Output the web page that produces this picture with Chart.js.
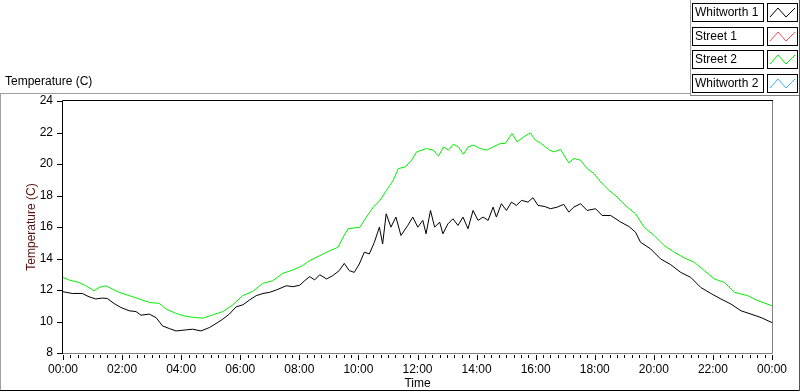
<!DOCTYPE html>
<html><head><meta charset="utf-8">
<script src="https://cdn.jsdelivr.net/npm/chart.js@4.4.1/dist/chart.umd.min.js"></script>
<style>
html,body{margin:0;padding:0;background:#fff;}
#wrap{position:relative;width:800px;height:392px;overflow:hidden;font-family:'Liberation Sans',Arial,sans-serif;font-size:12px;color:#000;}
#c{position:absolute;left:0;top:0;}
.ln{position:absolute;}
#ttl{position:absolute;left:5px;top:74px;font-size:12px;line-height:14px;white-space:nowrap;}
.lab{position:absolute;left:692px;width:68px;height:17px;border:1px solid #000;line-height:17px;padding-left:2px;box-sizing:content-box;white-space:nowrap;font-size:12px;}
.sw{position:absolute;left:767px;width:29px;height:17px;border:1px solid #000;}
.sw svg{display:block;}
</style></head>
<body>
<div id="wrap">
<canvas id="c" width="800" height="392"></canvas>
<div id="ttl">Temperature (C)</div>
<div class="ln" style="left:0;top:93px;width:690px;height:1px;background:#a0a0a0"></div>
<div class="ln" style="left:690px;top:0;width:1px;height:95px;background:#a0a0a0"></div>
<div class="ln" style="left:690px;top:95px;width:110px;height:1px;background:#808080"></div>
<div class="ln" style="left:0;top:93px;width:1px;height:298px;background:#a0a0a0"></div>
<div class="ln" style="left:0;top:390px;width:800px;height:1px;background:#000"></div>
<div class="ln" style="left:799px;top:0;width:1px;height:391px;background:#555"></div>
<div id="legend"></div>
</div>
<script>
// ---- data (hours after midnight, °C) ----
const seriesNames = ['Whitworth 1', 'Street 1', 'Street 2', 'Whitworth 2'];
const seriesColors = ['#000000', '#ff4a4a', '#00f000', '#33b5ff'];

const whitworth1Hours = [0.00,0.31,0.65,0.88,1.11,1.33,1.50,1.73,1.96,2.24,2.47,2.64,2.92,3.15,3.37,3.60,3.83,4.17,4.39,4.67,4.96,5.18,5.41,5.63,5.86,6.09,6.31,6.54,6.77,6.99,7.22,7.56,7.78,8.01,8.18,8.35,8.52,8.69,8.92,9.13,9.35,9.52,9.69,9.86,10.03,10.20,10.37,10.54,10.71,10.82,10.94,11.10,11.27,11.44,11.67,11.84,12.01,12.18,12.29,12.44,12.58,12.75,12.86,13.03,13.20,13.37,13.54,13.71,13.88,14.05,14.22,14.39,14.56,14.67,14.84,15.01,15.18,15.35,15.52,15.74,15.91,16.08,16.31,16.50,16.73,16.95,17.12,17.29,17.52,17.74,18.03,18.25,18.54,18.88,19.16,19.38,19.55,19.89,20.23,20.57,20.91,21.25,21.59,21.93,22.27,22.61,22.95,23.29,23.63,24.00];
const whitworth1Temps = [11.89,11.78,11.78,11.57,11.43,11.49,11.46,11.14,10.89,10.68,10.63,10.40,10.47,10.25,9.72,9.55,9.40,9.47,9.51,9.40,9.62,9.87,10.15,10.47,10.93,11.06,11.36,11.64,11.78,11.85,12.00,12.27,12.21,12.30,12.59,12.85,12.64,12.97,12.70,12.91,13.23,13.69,13.23,13.12,13.65,14.40,14.29,15.03,15.99,14.93,16.84,15.99,16.63,15.46,16.10,16.63,15.99,16.42,15.57,17.05,15.99,16.31,15.57,16.20,16.52,16.10,16.63,15.89,17.05,16.42,16.63,16.42,17.26,16.63,17.48,17.05,17.58,17.37,17.69,17.58,17.86,17.37,17.30,17.16,17.26,17.44,16.95,17.26,17.48,17.05,17.16,16.73,16.73,16.31,16.03,15.67,15.03,14.61,13.97,13.61,13.12,12.80,12.16,11.78,11.43,11.11,10.68,10.47,10.25,9.93];

const street2Hours = [0.00,0.20,0.54,0.77,1.05,1.22,1.45,1.67,1.90,2.24,2.58,2.92,3.26,3.49,3.83,4.17,4.50,4.73,5.07,5.41,5.75,6.08,6.42,6.76,7.10,7.44,7.78,8.11,8.35,8.69,9.03,9.31,9.48,9.65,10.05,10.27,10.50,10.73,10.95,11.18,11.35,11.58,11.80,11.97,12.31,12.54,12.71,12.88,13.05,13.21,13.38,13.55,13.72,13.89,14.12,14.34,14.57,14.80,14.97,15.20,15.37,15.59,15.82,15.99,16.16,16.47,16.61,16.84,17.12,17.29,17.52,17.74,17.97,18.20,18.48,18.76,19.10,19.38,19.67,20.01,20.35,20.69,21.03,21.37,21.71,22.05,22.39,22.73,23.18,23.52,24.00];
const street2Temps = [12.80,12.64,12.48,12.27,11.95,12.16,12.27,12.06,11.85,11.64,11.43,11.21,11.15,10.79,10.51,10.32,10.25,10.21,10.42,10.63,11.06,11.64,11.91,12.42,12.59,13.06,13.27,13.55,13.87,14.18,14.50,14.71,15.35,15.89,15.99,16.63,17.26,17.69,18.33,18.97,19.71,19.81,20.24,20.77,20.98,20.88,20.50,21.09,20.88,21.26,21.09,20.62,21.09,21.20,20.98,20.88,21.09,21.30,21.30,21.94,21.41,21.72,21.98,21.51,21.34,20.88,20.77,20.92,20.07,20.35,20.24,19.71,19.39,18.86,18.33,17.90,17.26,16.84,15.99,15.46,14.82,14.40,14.04,13.76,13.23,12.70,12.48,11.85,11.64,11.32,11.00];

const street1Hours = [];
const street1Temps = [];
const whitworth2Hours = [];
const whitworth2Temps = [];

const yTickValues = [8,10,12,14,16,18,20,22,24];
const xTickHours = [0,2,4,6,8,10,12,14,16,18,20,22,24];
const xTickLabels = ['00:00','02:00','04:00','06:00','08:00','10:00','12:00','14:00','16:00','18:00','20:00','22:00','00:00'];

const toPts = (hs, ts) => hs.map((h, i) => ({x: h, y: ts[i]}));
const seriesData = [
  toPts(whitworth1Hours, whitworth1Temps),
  toPts(street1Hours, street1Temps),
  toPts(street2Hours, street2Temps),
  toPts(whitworth2Hours, whitworth2Temps)
];

const FONT = "'Liberation Sans', Arial, sans-serif";

const framePlugin = {
  id: 'frame',
  afterDraw(chart) {
    const {ctx, chartArea: a, scales: {x, y}} = chart;
    ctx.save();
    ctx.lineWidth = 1;
    ctx.strokeStyle = '#808080';
    ctx.beginPath();
    ctx.moveTo(a.right + 0.5, a.top);
    ctx.lineTo(a.right + 0.5, a.bottom + 0.5);
    ctx.lineTo(a.left, a.bottom + 0.5);
    ctx.stroke();
    ctx.strokeStyle = '#000';
    ctx.beginPath();
    ctx.moveTo(a.left - 0.5, a.bottom + 1);
    ctx.lineTo(a.left - 0.5, a.top - 0.5);
    ctx.lineTo(a.right + 1, a.top - 0.5);
    // y ticks
    for (const v of yTickValues) {
      const py = Math.round(y.getPixelForValue(v)) + 0.5;
      ctx.moveTo(a.left - 6, py); ctx.lineTo(a.left - 1, py);
    }
    // x ticks (major every 2 h, minor every 15 min)
    for (let m = 0; m <= 24 * 60; m += 15) {
      const px = Math.round(x.getPixelForValue(m / 60)) + 0.5;
      const major = m % 120 === 0;
      ctx.moveTo(px, a.bottom + 2);
      ctx.lineTo(px, a.bottom + (major ? 7 : 5));
    }
    ctx.stroke();
    ctx.restore();
  }
};

const chart = new Chart(document.getElementById('c'), {
  type: 'line',
  data: {
    datasets: seriesNames.map((n, i) => ({
      label: n,
      data: seriesData[i],
      borderColor: seriesColors[i],
      backgroundColor: seriesColors[i],
      borderWidth: 1,
      pointRadius: 0,
      tension: 0,
      fill: false
    }))
  },
  options: {
    responsive: false,
    animation: false,
    devicePixelRatio: 1,
    layout: {padding: {top: 101, right: 28, left: 0, bottom: 0}},
    plugins: {legend: {display: false}, tooltip: {enabled: false}, title: {display: false}},
    scales: {
      x: {
        type: 'linear', min: 0, max: 24,
        afterFit(s) { s.height = 39; },
        afterBuildTicks(s) { s.ticks = xTickHours.map(v => ({value: v})); },
        ticks: {
          autoSkip: false, maxRotation: 0, padding: 2, color: '#000',
          font: {family: FONT, size: 12},
          callback: (v) => { const i = xTickHours.indexOf(v); return i >= 0 ? xTickLabels[i] : ''; }
        },
        grid: {display: true, drawOnChartArea: false, drawTicks: true, tickLength: 7, color: 'rgba(0,0,0,0)'},
        border: {display: false},
        title: {display: true, text: 'Time', color: '#000', font: {family: FONT, size: 12}, padding: {top: 0, bottom: 1}}
      },
      y: {
        type: 'linear', min: 8, max: 24,
        afterFit(s) { s.width = 63; },
        afterBuildTicks(s) { s.ticks = yTickValues.map(v => ({value: v})); },
        ticks: {padding: 3, color: '#000', font: {family: FONT, size: 12}},
        grid: {display: true, drawOnChartArea: false, drawTicks: true, tickLength: 7, color: 'rgba(0,0,0,0)'},
        border: {display: false},
        title: {display: true, text: 'Temperature (C)', color: '#5a1010', font: {family: FONT, size: 12}, padding: {top: 24, bottom: 0}}
      }
    }
  },
  plugins: [framePlugin]
});

// legend built from chart datasets
const lg = document.getElementById('legend');
const rowTops = [3, 27, 50, 74];
chart.data.datasets.forEach((ds, i) => {
  const l = document.createElement('div');
  l.className = 'lab'; l.style.top = rowTops[i] + 'px'; l.textContent = ds.label;
  lg.appendChild(l);
  const s = document.createElement('div');
  s.className = 'sw'; s.style.top = rowTops[i] + 'px';
  s.innerHTML = '<svg width="29" height="17"><polyline points="2,13 10,4 18,13 27,4" fill="none" stroke="' + ds.borderColor + '" stroke-width="1"/></svg>';
  lg.appendChild(s);
});
</script>
</body></html>
